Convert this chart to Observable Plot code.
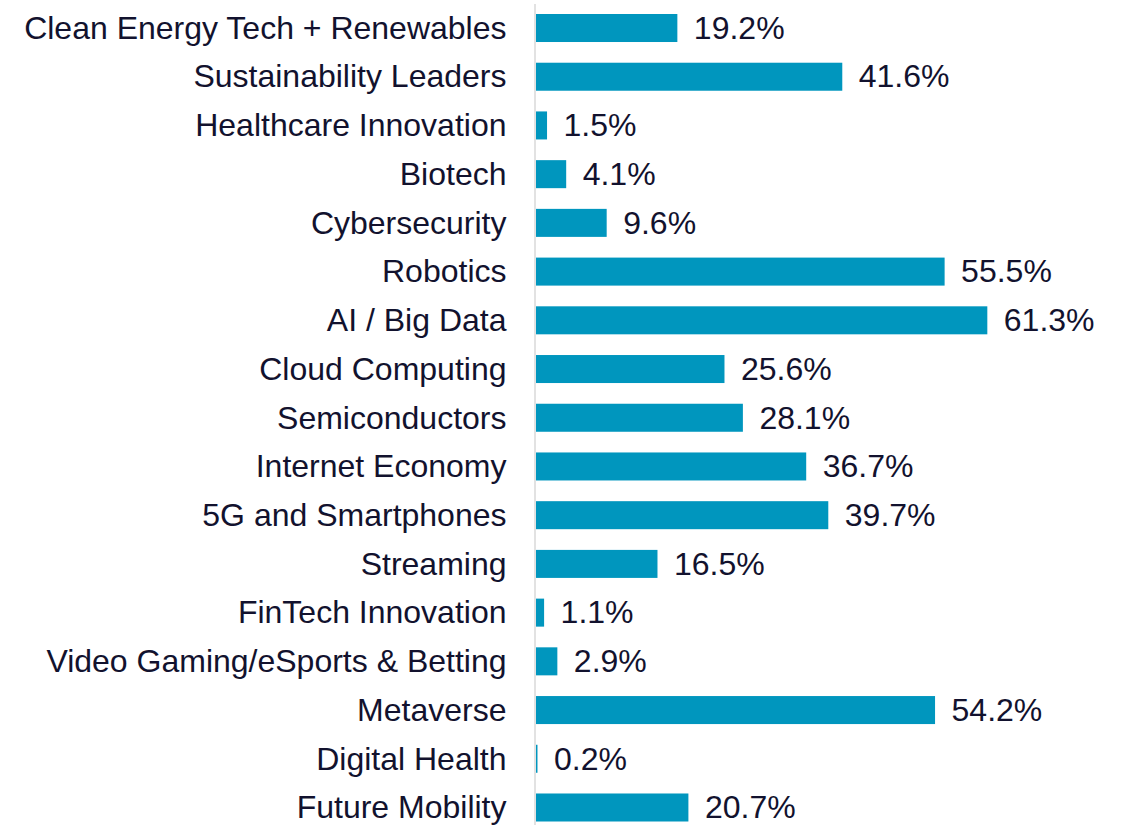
<!DOCTYPE html>
<html>
<head>
<meta charset="utf-8">
<script src="https://cdn.jsdelivr.net/npm/d3@7"></script>
<script src="https://cdn.jsdelivr.net/npm/@observablehq/plot@0.6"></script>
<style>
  html, body { margin: 0; padding: 0; background: #fff; }
  #chart svg { display: block; }
</style>
</head>
<body>
<div id="chart"></div>
<script>
const categories = [
  "Clean Energy Tech + Renewables",
  "Sustainability Leaders",
  "Healthcare Innovation",
  "Biotech",
  "Cybersecurity",
  "Robotics",
  "AI / Big Data",
  "Cloud Computing",
  "Semiconductors",
  "Internet Economy",
  "5G and Smartphones",
  "Streaming",
  "FinTech Innovation",
  "Video Gaming/eSports & Betting",
  "Metaverse",
  "Digital Health",
  "Future Mobility"
];
const values = [19.2, 41.6, 1.5, 4.1, 9.6, 55.5, 61.3, 25.6, 28.1, 36.7, 39.7, 16.5, 1.1, 2.9, 54.2, 0.2, 20.7];

const data = categories.map((c, i) => ({category: c, value: values[i]}));

const textColor = "#12122e";
const barColor = "#0096be";

const chart = Plot.plot({
  width: 1125,
  height: 825,
  marginLeft: 536,
  marginRight: 0,
  marginTop: 14,
  marginBottom: 3.5,
  style: {fontFamily: "'Liberation Sans', Arial, sans-serif", fontSize: "32px", color: textColor, background: "#fff"},
  x: {domain: [0, 80], axis: null},
  y: {domain: categories, paddingInner: 0.425, paddingOuter: 0, round: false, label: null},
  marks: [
    Plot.barX(data, {x: "value", y: "category", fill: barColor}),
    Plot.ruleX([0], {stroke: "#d9d9d9", strokeWidth: 1.5, dx: -1.5, insetTop: -10, insetBottom: -4}),
    Plot.text(data, {x: "value", y: "category", text: d => d.value.toFixed(1) + "%", textAnchor: "start", dx: 16, fill: textColor, fontSize: 32}),
    Plot.axisY({tickSize: 0, tickPadding: 30, fontSize: 32, fill: textColor, label: null})
  ]
});
document.getElementById("chart").appendChild(chart);
</script>
</body>
</html>
